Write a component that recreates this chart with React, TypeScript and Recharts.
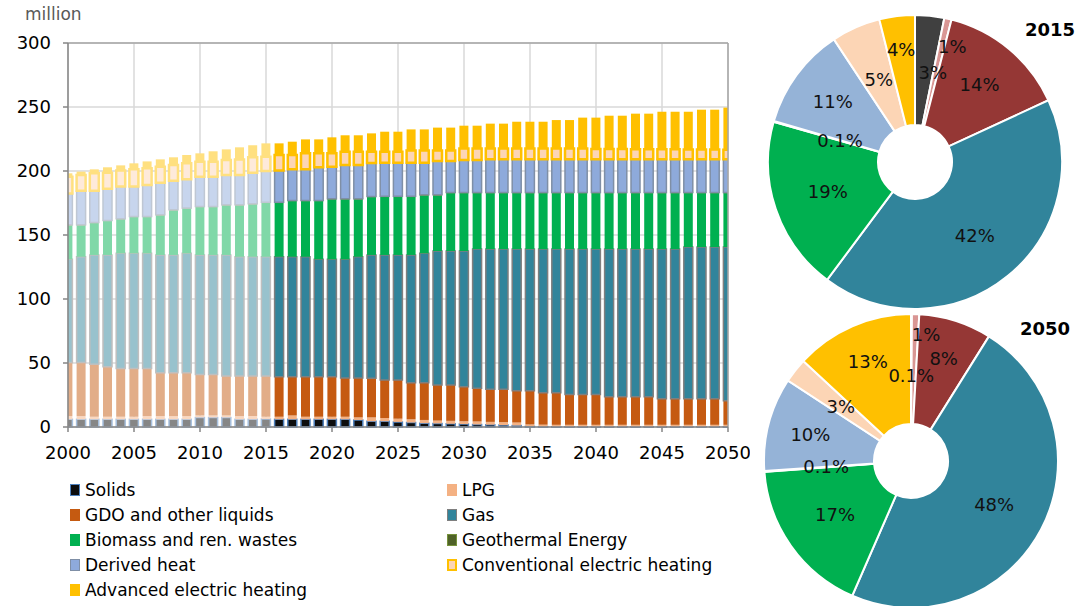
import React from 'react';
import { BarChart, Bar, XAxis, YAxis, CartesianGrid, Cell, PieChart, Pie, ReferenceLine } from 'recharts';

const FONT = '"DejaVu Sans", Verdana, sans-serif';

const years = [
  2000, 2001, 2002, 2003, 2004, 2005, 2006, 2007, 2008, 2009,
  2010, 2011, 2012, 2013, 2014, 2015, 2016, 2017, 2018, 2019,
  2020, 2021, 2022, 2023, 2024, 2025, 2026, 2027, 2028, 2029,
  2030, 2031, 2032, 2033, 2034, 2035, 2036, 2037, 2038, 2039,
  2040, 2041, 2042, 2043, 2044, 2045, 2046, 2047, 2048, 2049, 2050,
];
const lastHistoricYear = 2015;

const seriesNames = [
  'Solids', 'LPG', 'GDO and other liquids', 'Gas', 'Biomass and ren. wastes',
  'Geothermal Energy', 'Derived heat', 'Conventional electric heating', 'Advanced electric heating',
];

const solids = [
  6, 6, 6, 6, 6, 6, 6, 6, 6, 6,
  7.5, 7.5, 7.5, 6, 6, 6.3, 6, 6, 6, 6,
  6, 6, 5.5, 4.5, 4.5, 4, 3.5, 3, 2.8, 2.5,
  2.3, 2, 1.8, 1.5, 1.2, 0.5, 0.3, 0.2, 0.2, 0.2,
  0.2, 0.2, 0.2, 0.2, 0.2, 0.2, 0.2, 0.2, 0.2, 0.2, 0.2,
];
const lpg = [
  2.5, 2.5, 2, 2, 2, 2, 2.5, 2.5, 2.5, 2.5,
  1.5, 1.5, 1.5, 2.5, 2.5, 1.7, 2, 3, 2, 2,
  2, 2, 2, 3, 2.5, 2.5, 2.5, 2.5, 2.2, 2.3,
  2.2, 2.3, 2.2, 2.3, 2.3, 1.5, 1.5, 1.5, 1.5, 1.5,
  1.5, 1.5, 1.5, 1.5, 1.5, 1.5, 1.5, 1.5, 1.5, 1.5, 1.5,
];
const gdo = [
  41.8, 41.8, 41, 39.1, 37.8, 37.8, 37.3, 33.9, 33.9, 33.9,
  32.1, 32.1, 30.8, 31.3, 31.3, 31.8, 31.3, 30.3, 31.3, 31.3,
  31.3, 30.3, 30.8, 30.5, 29.7, 30.2, 28.6, 29.1, 27.8, 28,
  27, 25.9, 25.4, 25.6, 24.9, 26.4, 25, 25.1, 23.6, 23.6,
  23.6, 22, 22, 22, 22, 20.4, 20.4, 20.4, 20.4, 20.4, 18.9,
];
const gas = [
  80.7, 82.7, 85.4, 87.3, 89.9, 89.9, 89.9, 92, 92, 93.3,
  93.3, 93.3, 94.6, 93.2, 93.2, 93.2, 93.7, 93.7, 93.7, 91.7,
  91.7, 92.7, 94.7, 96.4, 97.7, 97.7, 99.8, 101.1, 104.7, 104.7,
  106, 108.8, 109.6, 109.6, 110.6, 110.6, 112.2, 112.2, 113.7, 113.7,
  113.7, 115.3, 115.3, 115.3, 115.3, 116.9, 116.9, 118.5, 118.5, 118.5, 120,
];
const biomass = [
  26.8, 24.8, 25.2, 26.8, 26.8, 28.6, 28.6, 31.2, 35.1, 35.1,
  37.7, 37.7, 39, 40.4, 41.2, 42.3, 42.3, 43.8, 43.8, 45.8,
  47.1, 47.1, 45.1, 45.5, 45.6, 45.6, 45.6, 45.5, 43.7, 45.5,
  45.5, 44, 44, 44, 44, 44, 44, 44, 44, 44,
  44, 44, 44, 44, 44, 44, 44, 42.4, 42.4, 42.4, 42.4,
];
const geothermal = [
  0.2, 0.2, 0.2, 0.2, 0.2, 0.2, 0.2, 0.2, 0.2, 0.2,
  0.2, 0.2, 0.2, 0.2, 0.2, 0.2, 0.2, 0.2, 0.2, 0.2,
  0.2, 0.2, 0.2, 0.2, 0.2, 0.2, 0.2, 0.2, 0.2, 0.2,
  0.2, 0.2, 0.2, 0.2, 0.2, 0.2, 0.2, 0.2, 0.2, 0.2,
  0.2, 0.2, 0.2, 0.2, 0.2, 0.2, 0.2, 0.2, 0.2, 0.2, 0.2,
];
const derivedHeat = [
  24.5, 26.6, 24.8, 24.8, 25.1, 23.3, 24.5, 25.1, 22.7, 22.5,
  23.3, 23.3, 23.3, 23.3, 24.3, 24.5, 24.8, 24.3, 24.3, 25.9,
  25.1, 26.4, 26.4, 26.2, 26.3, 26.3, 26.3, 25.1, 26.4, 24.6,
  25.3, 25.3, 25.9, 25.9, 25.9, 25.9, 25.9, 25.9, 25.9, 25.9,
  25.9, 25.9, 25.9, 25.9, 25.9, 25.9, 25.9, 25.9, 25.9, 25.9, 25.9,
];
const convElectric = [
  13.1, 12.3, 13.6, 12.5, 12.5, 13.5, 13.1, 12.5, 12.3, 12.5,
  11.7, 11.7, 11.7, 12.1, 12, 11.2, 12.2, 11.2, 12.5, 10.9,
  10.4, 10.4, 10.4, 8.8, 8.6, 8.6, 9.5, 9.5, 8.2, 8.2,
  9, 9, 8.4, 8.4, 8.4, 8.4, 8.4, 8.4, 8.4, 8.4,
  8, 8, 8, 7.8, 7.8, 7.8, 7.8, 7.6, 7.6, 7.6, 7.5,
];
const advElectric = [
  2.6, 2.6, 3.1, 4.2, 4.1, 4.7, 5.4, 5.7, 6, 6.5,
  6.5, 8.1, 8.3, 9.5, 9.4, 10.4, 9.1, 10.4, 10.9, 10.9,
  12.5, 12.8, 12.8, 14.3, 15.6, 15.6, 16.5, 16.5, 17.9, 17.9,
  17.9, 17.9, 19.5, 19.5, 21, 21, 21, 22.3, 22.3, 24.2,
  24.6, 26.1, 26.1, 27.9, 27.9, 29.4, 29.4, 29.6, 31.2, 31.2, 32.9,
];

const yTicks = [0, 50, 100, 150, 200, 250, 300];
const xTicks = [2000, 2005, 2010, 2015, 2020, 2025, 2030, 2035, 2040, 2045, 2050];

const pie2015 = [3.2, 0.8, 14.1, 42.1, 19.2, 0.1, 11.2, 5.4, 3.9];
const pie2015Labels = ['3%', '1%', '14%', '42%', '19%', '0.1%', '11%', '5%', '4%'];
const pie2050 = [0.1, 0.8, 8, 47.7, 17.3, 0.1, 10.3, 2.7, 13.1];
const pie2050Labels = ['0.1%', '1%', '8%', '48%', '17%', '0.1%', '10%', '3%', '13%'];

// styles
const keys = ['solids', 'lpg', 'gdo', 'gas', 'biomass', 'geo', 'derived', 'conv', 'adv'];
const barFill = ['#0d0d0d', '#f4b183', '#c55a11', '#31849b', '#00b050', '#4f6228', '#8eaadb', '#fcd5b5', '#ffc000'];
const barStroke = ['#4f81bd', 'none', 'none', '#7f7f7f', 'none', '#77933c', '#7f8fa6', '#ffc000', 'none'];
const barStrokeW = [1.5, 0, 0, 1.5, 0, 1, 1.5, 2.5, 0];
const pieColors = ['#404040', '#d99694', '#953735', '#31849b', '#00b050', '#f2dcdb', '#95b3d7', '#fcd5b5', '#ffc000'];
// label placement (radius px, clockwise angle shift in degrees)
const pie2015Radii = [91, 121, 101, 95, 92, 78, 102, 90, 113];
const pie2015Shift = [5.5, 5, 0, 0, 0, 0, 0, 0, 0];
const pie2050Radii = [86, 127, 108, 94, 93, 85, 104, 89, 108];
const pie2050Shift = [0, 5, 0, 0, 0, 0, 0, 0, 0];

const seriesValues = [solids, lpg, gdo, gas, biomass, geothermal, derivedHeat, convElectric, advElectric];

const rows = years.map((y, i) => {
  const r: Record<string, number> = { year: y };
  keys.forEach((k, s) => { r[k] = seriesValues[s][i]; });
  return r;
});

function lighten(hex: string, t: number): string {
  if (!hex.startsWith('#')) return hex;
  const n = parseInt(hex.slice(1), 16);
  const c = [(n >> 16) & 255, (n >> 8) & 255, n & 255].map((v) => Math.round(v + (255 - v) * t));
  return '#' + c.map((v) => v.toString(16).padStart(2, '0')).join('');
}

const makeLabel = (labels: string[], radii: number[], shifts: number[]) => (props: any) => {
  const { cx, cy, midAngle, index } = props;
  const rad = (-(midAngle - shifts[index]) * Math.PI) / 180;
  const r = radii[index];
  const x = cx + r * Math.cos(rad);
  const y = cy + r * Math.sin(rad);
  return (
    <text key={'l' + index} x={x} y={y} textAnchor="middle" dominantBaseline="central"
      fontSize={18} fontFamily={FONT} fill="#111">
      {labels[index]}
    </text>
  );
};

const legendCol1 = [0, 2, 4, 6, 8];
const legendCol2 = [1, 3, 5, 7];

function LegendItem({ s, left, top }: { s: number; left: number; top: number }) {
  const sw = barStrokeW[s] > 0 ? Math.min(2, barStrokeW[s]) : 0;
  return (
    <div style={{ position: 'absolute', left, top, height: 24, display: 'flex', alignItems: 'center' }}>
      <div style={{
        width: 10, height: 12, boxSizing: 'border-box', background: barFill[s],
        border: sw ? `${sw}px solid ${barStroke[s]}` : 'none', marginRight: 5,
      }} />
      <span style={{ fontFamily: FONT, fontSize: 17, color: '#000', whiteSpace: 'nowrap' }}>{seriesNames[s]}</span>
    </div>
  );
}

const zeroMargin = { top: 0, right: 0, bottom: 0, left: 0 };

export default function App() {
  return (
    <div style={{ position: 'absolute', left: 0, top: 0, width: 1080, height: 606, background: '#fff', overflow: 'hidden' }}>
      <div style={{ position: 'absolute', left: 25, top: 4, fontFamily: FONT, fontSize: 17, color: '#595959' }}>million</div>
      <div style={{ position: 'absolute', left: 0, top: 0 }}>
        <BarChart width={750} height={470} data={rows} margin={{ top: 43, right: 22, bottom: 0, left: 0 }} barSize={9}>
          <CartesianGrid stroke="#d9d9d9" strokeWidth={1.5} />
          <XAxis dataKey="year" type="number" domain={[2000, 2050]} ticks={xTicks} allowDataOverflow
            interval={0} height={43} tickSize={5} tickMargin={14} stroke="#868686" strokeWidth={1.5}
            tick={{ fill: '#000', fontSize: 18, fontFamily: FONT }} />
          <YAxis domain={[0, 300]} ticks={yTicks} width={68} tickSize={5} tickMargin={12}
            stroke="#868686" strokeWidth={1.5} tick={{ fill: '#000', fontSize: 18, fontFamily: FONT }} />
          {keys.map((k, s) => (
            <Bar key={k} dataKey={k} stackId="a" isAnimationActive={false}>
              {rows.map((r, i) => {
                const faded = (r.year as number) <= lastHistoricYear;
                return (
                  <Cell key={i}
                    fill={faded ? lighten(barFill[s], 0.5) : barFill[s]}
                    stroke={faded ? lighten(barStroke[s], 0.5) : barStroke[s]}
                    strokeWidth={barStrokeW[s]} />
                );
              })}
            </Bar>
          ))}
          <ReferenceLine y={300} stroke="#a6a6a6" strokeWidth={1.5} />
          <ReferenceLine x={2050} stroke="#a6a6a6" strokeWidth={1.5} />
        </BarChart>
      </div>
      {legendCol1.map((s, j) => (
        <LegendItem key={s} s={s} left={70} top={478 + j * 25} />
      ))}
      {legendCol2.map((s, j) => (
        <LegendItem key={s} s={s} left={447} top={478 + j * 25} />
      ))}
      <div style={{ position: 'absolute', left: 760, top: 0 }}>
        <PieChart width={320} height={310} margin={zeroMargin}>
          <Pie data={pie2015.map((v, i) => ({ name: seriesNames[i], value: v }))} dataKey="value"
            cx={155} cy={162} innerRadius={37} outerRadius={147} startAngle={90} endAngle={-270}
            stroke="#fff" strokeWidth={2} isAnimationActive={false} labelLine={false}
            label={makeLabel(pie2015Labels, pie2015Radii, pie2015Shift)}>
            {pie2015.map((_, i) => <Cell key={i} fill={pieColors[i]} />)}
          </Pie>
        </PieChart>
      </div>
      <div style={{ position: 'absolute', left: 760, top: 300 }}>
        <PieChart width={320} height={306} margin={zeroMargin}>
          <Pie data={pie2050.map((v, i) => ({ name: seriesNames[i], value: v }))} dataKey="value"
            cx={151} cy={161} innerRadius={37} outerRadius={147} startAngle={90} endAngle={-270}
            stroke="#fff" strokeWidth={2} isAnimationActive={false} labelLine={false}
            label={makeLabel(pie2050Labels, pie2050Radii, pie2050Shift)}>
            {pie2050.map((_, i) => <Cell key={i} fill={pieColors[i]} />)}
          </Pie>
        </PieChart>
      </div>
      <div style={{ position: 'absolute', left: 1025, top: 19, fontFamily: FONT, fontSize: 18, fontWeight: 'bold', color: '#000' }}>2015</div>
      <div style={{ position: 'absolute', left: 1020, top: 318, fontFamily: FONT, fontSize: 18, fontWeight: 'bold', color: '#000' }}>2050</div>
    </div>
  );
}
